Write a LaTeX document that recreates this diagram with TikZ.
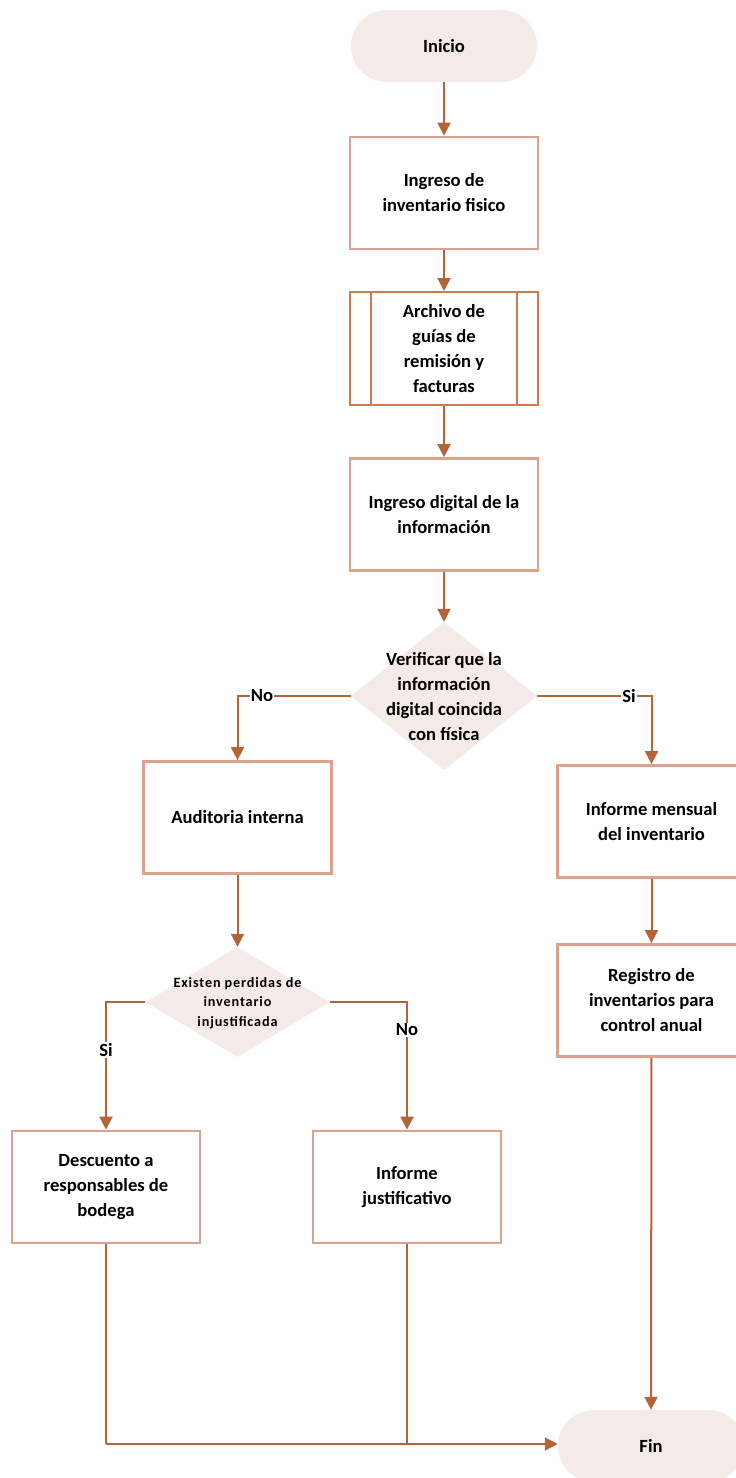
\documentclass[tikz,border=0pt]{standalone}
\usepackage{fontspec}
\setmainfont{Carlito}
\usetikzlibrary{arrows.meta,shapes.geometric}
\definecolor{conn}{HTML}{B5643A}
\definecolor{boxln}{HTML}{DCA28E}
\definecolor{ppln}{HTML}{CF7A4A}
\definecolor{softfill}{HTML}{F4EAE7}
\tikzset{
  every node/.style={font=\fontsize{18.6}{25}\selectfont\bfseries},
  termbox/.style={rectangle, rounded corners=36pt, fill=softfill, draw=none, minimum width=186pt, minimum height=72pt, inner sep=0pt},
  procbox/.style={rectangle, draw=boxln, line width=2.8pt, fill=white, minimum width=188pt, minimum height=112pt, align=center, inner sep=0pt},
  predbox/.style={rectangle, draw=ppln, line width=2pt, fill=white, minimum width=188pt, minimum height=113pt, align=center, inner sep=0pt},
  decbox/.style={diamond, fill=softfill, draw=none, inner sep=0pt},
  conn/.style={draw=conn, line width=2pt},
  arr/.style={conn, -{Triangle[width=13pt,length=13pt]}},
  lbl/.style={fill=white, inner sep=1pt},
  smalltext/.style={font=\fontsize{14.2}{19.5}\selectfont\bfseries\addfontfeatures{LetterSpace=6}, align=center}
}
\begin{document}
\begin{tikzpicture}[x=1pt,y=-1pt]
\useasboundingbox (0,0) rectangle (736,1478);
% nodes
\node[termbox] (ini) at (444,46) {Inicio};
\node[procbox] (ing) at (444,193) {Ingreso de\\inventario fisico};
\node[predbox] (arc) at (444,348.5) {Archivo de\\guías de\\remisión y\\facturas};
\draw[ppln, line width=2pt] ([xshift=22pt]arc.north west) -- ([xshift=22pt]arc.south west);
\draw[ppln, line width=2pt] ([xshift=-22pt]arc.north east) -- ([xshift=-22pt]arc.south east);
\node[procbox] (dig) at (444,514.5) {Ingreso digital de la\\información};
\node[decbox, minimum width=186pt, minimum height=148pt] (ver) at (444,696) {};
\node[align=center] (vert) at (444,697) {Verificar que la\\información\\digital coincida\\con física};
\node[procbox] (aud) at (237.5,817.5) {Auditoria interna};
\node[procbox] (inf) at (651.5,821.5) {Informe mensual\\del inventario};
\node[procbox] (reg) at (651.5,1000.5) {Registro de\\inventarios para\\control anual};
\node[decbox, minimum width=184pt, minimum height=110pt] (exi) at (237.5,1002) {};
\node[smalltext] (exit) at (237.5,1003) {Existen perdidas de\\inventario\\injustificada};
\node[procbox] (des) at (106,1187) {Descuento a\\responsables de\\bodega};
\node[procbox] (jus) at (407,1187) {Informe\\justificativo};
\node[termbox] (fin) at (651,1446) {Fin};
% connectors
\draw[arr] (ini) -- (ing);
\draw[arr] (ing) -- (arc);
\draw[arr] (arc) -- (dig);
\draw[arr] (dig) -- (ver);
\draw[arr] (ver.west) -| (aud.north);
\draw[arr] (ver.east) -| (inf.north);
\node[lbl] (no1) at (262,696) {No};
\node[lbl] (si1) at (629,696) {Si};
\draw[arr] (inf) -- (reg);
\draw[arr] (reg) -- (fin);
\draw[arr] (aud) -- (exi);
\draw[arr] (exi.west) -| (des.north);
\draw[arr] (exi.east) -| (jus.north);
\node[lbl] (si2) at (106,1050) {Si};
\node[lbl] (no2) at (407,1030) {No};
\coordinate (c1) at (106,1444);
\coordinate (c2) at (407,1444);
\draw[conn] (des.south) -- (c1);
\draw[conn] (jus.south) -- (c2);
\draw[arr] (c1) -- (fin.west |- c1);
\end{tikzpicture}
\end{document}
